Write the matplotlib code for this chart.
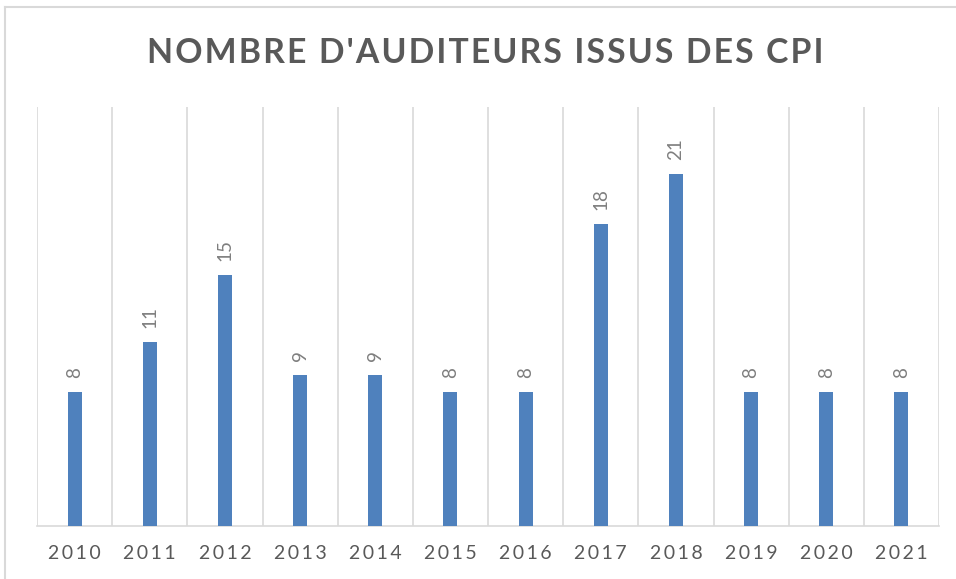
import matplotlib.pyplot as plt
from matplotlib.lines import Line2D
import numpy as np

years = ['2010', '2011', '2012', '2013', '2014', '2015',
         '2016', '2017', '2018', '2019', '2020', '2021']
values = [8, 11, 15, 9, 9, 8, 8, 18, 21, 8, 8, 8]
title = "NOMBRE D'AUDITEURS ISSUS DES CPI"


def spaced(s, sep='\u200a'):
    # fake letter spacing
    return sep.join(s)


W, H = 956, 579
fig = plt.figure(figsize=(W / 100, H / 100), dpi=100)
fam = ['Lato', 'DejaVu Sans']

# light frame (left + top) like the cropped screenshot
fig.add_artist(Line2D([5 / W, 5 / W], [0, 1 - 7 / H], color='#D9D9D9', lw=1.5))
fig.add_artist(Line2D([5 / W, 1], [1 - 7 / H, 1 - 7 / H], color='#D9D9D9', lw=1.5))

ax = fig.add_axes([37 / W, 1 - 526 / H, (939 - 37) / W, (526 - 107) / H])
x = np.arange(len(years))
ax.bar(x, values, width=0.186, color='#4F81BD', zorder=3)
ax.set_xlim(-0.5, len(years) - 0.5)
ax.set_ylim(0, 25)

# vertical gridlines between categories
ax.set_xticks(np.arange(-0.5, len(years)), minor=True)
ax.grid(which='minor', axis='x', color='#D9D9D9', lw=1.2, zorder=0)
ax.tick_params(which='both', length=0)
ax.set_yticks([])
ax.set_xticks(x)
ax.set_xticklabels([spaced(y, '\u2009') for y in years], family=fam,
                   fontsize=14, color='#595959')
ax.tick_params(axis='x', pad=14)
for s in ['top', 'right', 'left']:
    ax.spines[s].set_visible(False)
ax.spines['bottom'].set_color('#D9D9D9')
ax.spines['bottom'].set_linewidth(1.2)

for xi, v in zip(x, values):
    ax.annotate(str(v), (xi, v), xytext=(0, 10), textcoords='offset points',
                rotation=90, ha='center', va='bottom', fontsize=13.5,
                color='#7F7F7F', family=fam)

fig.text(0.508, 1 - 53 / H, spaced(title), ha='center', va='center',
         fontsize=24.3, weight='bold', color='#595959', family=fam)

fig.savefig('out.png', dpi=100)
